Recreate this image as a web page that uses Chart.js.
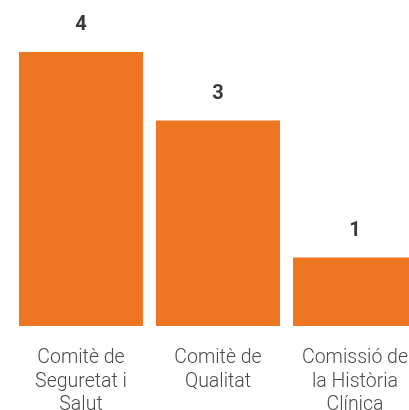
<!DOCTYPE html>
<html>
<head>
<meta charset="utf-8">
<script src="https://cdn.jsdelivr.net/npm/chart.js@4"></script>
<style>
  html, body { margin: 0; padding: 0; background: #fff; overflow: hidden; }
  #wrap { width: 409px; height: 410px; overflow: hidden; position: relative; }
  #wrap canvas { position: absolute; left: 0; top: 0; }
</style>
</head>
<body>
<div id="wrap">
  <canvas id="chart" width="430" height="410"></canvas>
</div>
<script>
const categories = [
  ["Comitè de", "Seguretat i", "Salut"],
  ["Comitè de", "Qualitat"],
  ["Comissió de", "la Història", "Clínica"]
];
const values = [4, 3, 1];

const barColor = "#EE7623";

// number above each bar
const valueLabels = {
  id: "valueLabels",
  afterDatasetsDraw(chart) {
    const ctx = chart.ctx;
    const meta = chart.getDatasetMeta(0);
    ctx.save();
    ctx.font = "bold 20px Roboto";
    ctx.fillStyle = "#3a3a3a";
    ctx.textAlign = "center";
    ctx.textBaseline = "middle";
    meta.data.forEach((bar, i) => {
      ctx.fillText(values[i], bar.x, bar.y - 27);
    });
    ctx.restore();
  }
};

const ctx = document.getElementById("chart").getContext("2d");
new Chart(ctx, {
  type: "bar",
  data: {
    labels: categories,
    datasets: [{
      data: values,
      backgroundColor: barColor,
      borderWidth: 0,
      categoryPercentage: 1,
      barPercentage: 0.905
    }]
  },
  options: {
    responsive: false,
    animation: false,
    layout: { padding: { top: 52, left: 12.5, right: 6.5, bottom: 0 } },
    plugins: {
      legend: { display: false },
      tooltip: { enabled: false }
    },
    scales: {
      y: {
        display: false,
        min: 0,
        max: 4
      },
      x: {
        grid: { display: false },
        border: { display: false },
        ticks: {
          color: "#4a4a4a",
          font: { family: "Roboto", size: 19.5, weight: "300", lineHeight: 1.22 },
          padding: 12,
          maxRotation: 0,
          autoSkip: false
        },
        afterFit(scale) { scale.height = 84; }
      }
    }
  },
  plugins: [valueLabels]
});
</script>
</body>
</html>
